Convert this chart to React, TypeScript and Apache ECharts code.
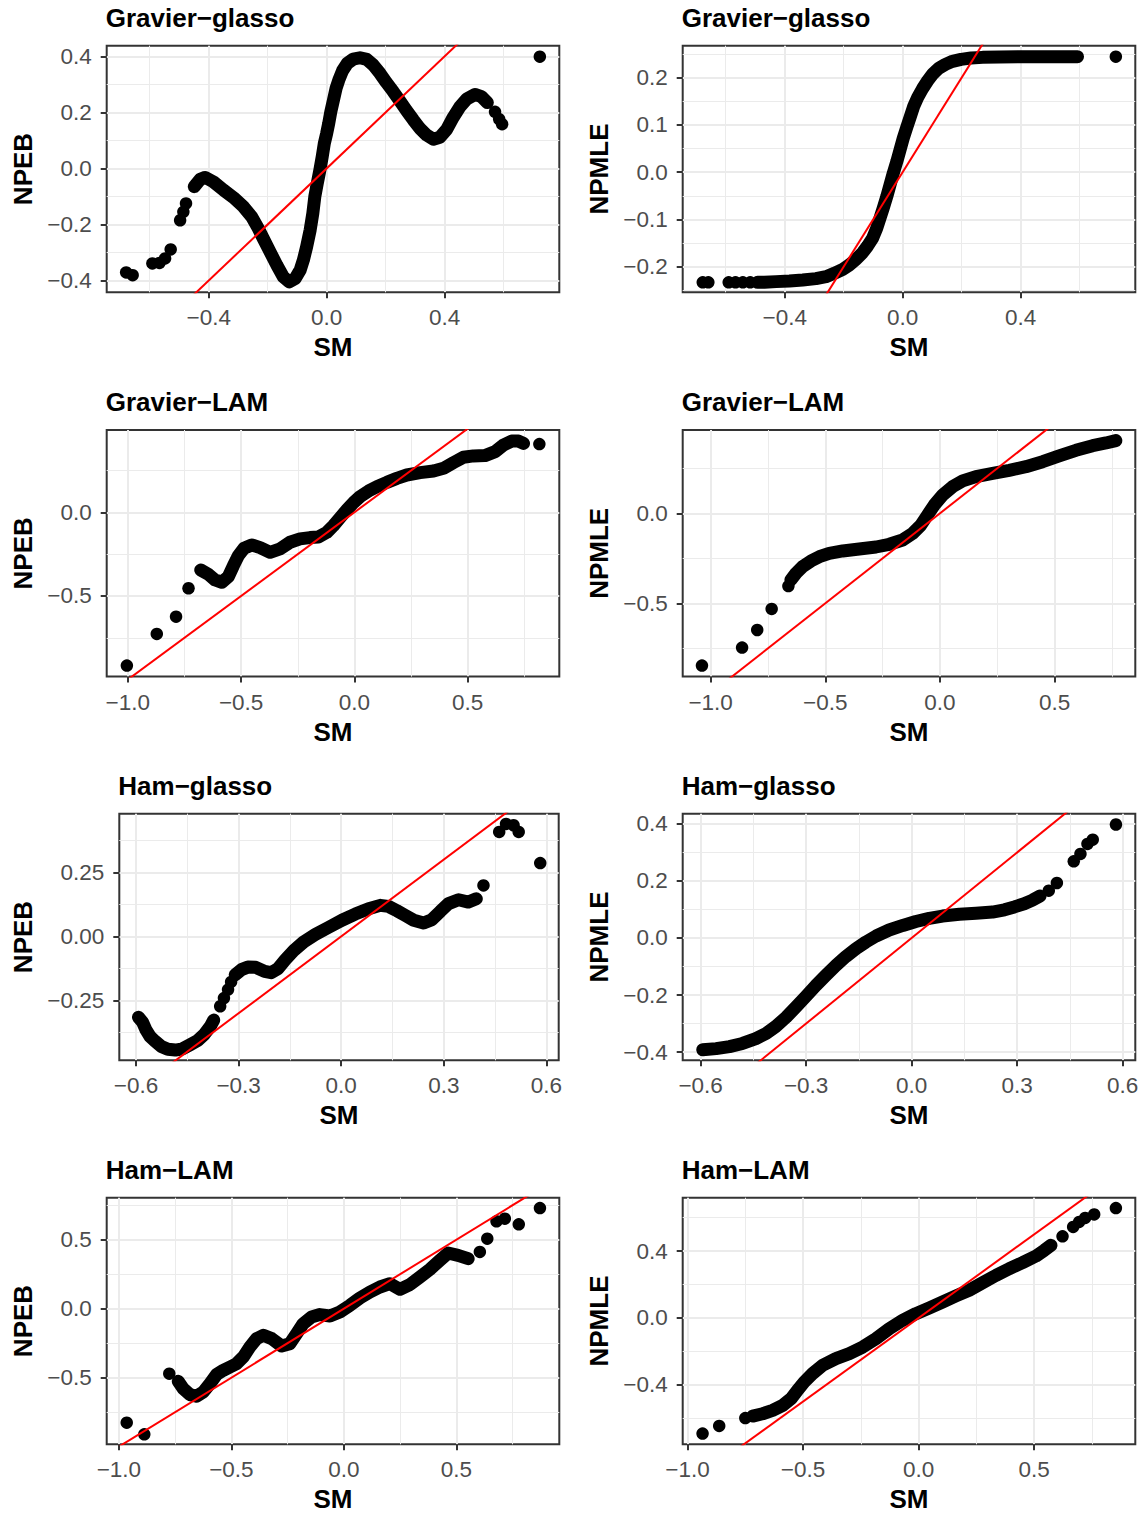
import React, { useEffect, useRef } from "react";
import * as echarts from "echarts";

const FONT = '"Liberation Sans", Arial, Helvetica, sans-serif';

// ---------- text ----------
const panelTitles = [
  "Gravier−glasso", "Gravier−glasso",
  "Gravier−LAM", "Gravier−LAM",
  "Ham−glasso", "Ham−glasso",
  "Ham−LAM", "Ham−LAM",
];
const yTitles = ["NPEB", "NPMLE", "NPEB", "NPMLE", "NPEB", "NPMLE", "NPEB", "NPMLE"];
const xTitle = "SM";

// ---------- axis limits ----------
const xLimits = [
  [-0.746, 0.789], [-0.746, 0.789],
  [-1.093, 0.904], [-1.122, 0.852],
  [-0.649, 0.636], [-0.651, 0.636],
  [-1.054, 0.957], [-1.021, 0.938],
];
const yLimits = [
  [-0.442, 0.438], [-0.2543, 0.2677],
  [-0.982, 0.492], [-0.907, 0.463],
  [-0.484, 0.479], [-0.429, 0.436],
  [-0.983, 0.804], [-0.756, 0.72],
];

// ---------- ticks ----------
const xBreaksA = [-0.4, 0, 0.4];
const xLabelsA = ["−0.4", "0.0", "0.4"];
const xMinorA = [-0.6, -0.2, 0.2, 0.6];
const xBreaksB = [-1, -0.5, 0, 0.5];
const xLabelsB = ["−1.0", "−0.5", "0.0", "0.5"];
const xMinorB = [-0.75, -0.25, 0.25, 0.75];
const xBreaksC = [-0.6, -0.3, 0, 0.3, 0.6];
const xLabelsC = ["−0.6", "−0.3", "0.0", "0.3", "0.6"];
const xMinorC = [-0.45, -0.15, 0.15, 0.45];

const yBreaks1 = [-0.4, -0.2, 0, 0.2, 0.4];
const yLabels1 = ["−0.4", "−0.2", "0.0", "0.2", "0.4"];
const yMinor1 = [-0.3, -0.1, 0.1, 0.3];
const yBreaks2 = [-0.2, -0.1, 0, 0.1, 0.2];
const yLabels2 = ["−0.2", "−0.1", "0.0", "0.1", "0.2"];
const yMinor2 = [-0.25, -0.15, -0.05, 0.05, 0.15, 0.25];
const yBreaks3 = [-0.5, 0];
const yLabels3 = ["−0.5", "0.0"];
const yMinor3 = [-0.75, -0.25, 0.25];
const yBreaks5 = [-0.25, 0, 0.25];
const yLabels5 = ["−0.25", "0.00", "0.25"];
const yMinor5 = [-0.375, -0.125, 0.125, 0.375];
const yBreaks7 = [-0.5, 0, 0.5];
const yLabels7 = ["−0.5", "0.0", "0.5"];
const yMinor7 = [-0.75, -0.25, 0.25, 0.75];
const yBreaks8 = [-0.4, 0, 0.4];
const yLabels8 = ["−0.4", "0.0", "0.4"];
const yMinor8 = [-0.6, -0.2, 0.2, 0.6];

// ---------- data: dense runs of points (drawn as a continuous band) and separate points ----------
const gravierGlassoNpebRun = [[-0.449,-0.065],[-0.429,-0.039],[-0.412,-0.032],[-0.384,-0.048],[-0.35,-0.077],[-0.316,-0.104],[-0.282,-0.137],[-0.254,-0.173],[-0.232,-0.214],[-0.215,-0.25],[-0.192,-0.298],[-0.169,-0.345],[-0.147,-0.387],[-0.127,-0.405],[-0.107,-0.393],[-0.09,-0.363],[-0.079,-0.327],[-0.068,-0.28],[-0.056,-0.22],[-0.047,-0.161],[-0.04,-0.099],[-0.032,-0.054],[-0.023,-0.006],[-0.015,0.042],[-0.008,0.089],[0,0.125],[0.007,0.161],[0.014,0.202],[0.023,0.244],[0.032,0.286],[0.041,0.315],[0.054,0.349],[0.07,0.375],[0.09,0.39],[0.113,0.395],[0.136,0.389],[0.158,0.369],[0.181,0.339],[0.203,0.306],[0.226,0.274],[0.249,0.24],[0.271,0.206],[0.294,0.173],[0.316,0.143],[0.339,0.119],[0.362,0.104],[0.384,0.111],[0.407,0.139],[0.429,0.182],[0.452,0.22],[0.475,0.248],[0.503,0.264],[0.525,0.256],[0.545,0.235]];
const gravierGlassoNpebPts = [[-0.68,-0.371],[-0.658,-0.381],[-0.591,-0.339],[-0.567,-0.337],[-0.548,-0.321],[-0.529,-0.289],[-0.497,-0.185],[-0.486,-0.155],[-0.477,-0.125],[0.571,0.202],[0.585,0.176],[0.595,0.158],[0.723,0.399]];

const gravierGlassoNpmleRun = [[-0.492,-0.2332],[-0.469,-0.2332],[-0.429,-0.2317],[-0.384,-0.2303],[-0.339,-0.2282],[-0.294,-0.2254],[-0.26,-0.2212],[-0.232,-0.2141],[-0.203,-0.2056],[-0.181,-0.1965],[-0.158,-0.1845],[-0.136,-0.1704],[-0.119,-0.1563],[-0.102,-0.14],[-0.088,-0.1189],[-0.077,-0.0977],[-0.066,-0.0765],[-0.054,-0.0519],[-0.043,-0.0272],[-0.032,-0.0025],[-0.02,0.0222],[-0.009,0.0469],[0.002,0.0716],[0.014,0.0949],[0.026,0.1175],[0.037,0.1386],[0.051,0.1584],[0.068,0.1774],[0.085,0.1937],[0.102,0.2078],[0.122,0.2198],[0.145,0.2282],[0.169,0.2346],[0.198,0.2388],[0.232,0.2416],[0.271,0.243],[0.328,0.2437],[0.395,0.2444],[0.475,0.2444],[0.542,0.2444],[0.593,0.2444]];
const gravierGlassoNpmlePts = [[-0.678,-0.2332],[-0.659,-0.2332],[-0.59,-0.2332],[-0.567,-0.2332],[-0.542,-0.2332],[-0.517,-0.2332],[0.723,0.2444]];

const gravierLamNpebRun = [[-0.678,-0.345],[-0.644,-0.371],[-0.615,-0.404],[-0.585,-0.418],[-0.556,-0.384],[-0.534,-0.319],[-0.512,-0.259],[-0.487,-0.215],[-0.453,-0.195],[-0.416,-0.211],[-0.372,-0.239],[-0.328,-0.219],[-0.284,-0.179],[-0.24,-0.159],[-0.196,-0.151],[-0.159,-0.147],[-0.122,-0.12],[-0.093,-0.08],[-0.063,-0.032],[-0.034,0.014],[-0.004,0.058],[0.025,0.094],[0.062,0.127],[0.099,0.153],[0.143,0.179],[0.187,0.203],[0.231,0.223],[0.29,0.237],[0.349,0.247],[0.393,0.263],[0.437,0.297],[0.481,0.329],[0.525,0.337],[0.576,0.339],[0.621,0.363],[0.657,0.402],[0.694,0.426],[0.724,0.426],[0.746,0.412]];
const gravierLamNpebPts = [[-1.004,-0.916],[-0.872,-0.727],[-0.787,-0.624],[-0.732,-0.454],[0.816,0.408]];

const gravierLamNpmleRun = [[-0.65,-0.37],[-0.628,-0.333],[-0.599,-0.296],[-0.563,-0.265],[-0.526,-0.241],[-0.483,-0.222],[-0.424,-0.209],[-0.352,-0.198],[-0.279,-0.187],[-0.221,-0.172],[-0.163,-0.148],[-0.119,-0.111],[-0.083,-0.065],[-0.054,-0.009],[-0.025,0.046],[0.012,0.102],[0.055,0.148],[0.099,0.18],[0.157,0.204],[0.23,0.222],[0.302,0.239],[0.375,0.259],[0.448,0.287],[0.52,0.319],[0.593,0.35],[0.666,0.376],[0.724,0.391],[0.767,0.404]];
const gravierLamNpmlePts = [[-1.038,-0.846],[-0.863,-0.746],[-0.797,-0.648],[-0.734,-0.531],[-0.661,-0.404]];

const hamGlassoNpebRunA = [[-0.593,-0.316],[-0.581,-0.335],[-0.571,-0.365],[-0.559,-0.391],[-0.544,-0.41],[-0.526,-0.43],[-0.507,-0.441],[-0.485,-0.444],[-0.464,-0.439],[-0.442,-0.423],[-0.419,-0.406],[-0.4,-0.382],[-0.383,-0.352],[-0.373,-0.327]];
const hamGlassoNpebRunB = [[-0.31,-0.15],[-0.292,-0.13],[-0.273,-0.12],[-0.25,-0.121],[-0.224,-0.137],[-0.205,-0.142],[-0.185,-0.126],[-0.164,-0.092],[-0.139,-0.056],[-0.11,-0.022],[-0.076,0.007],[-0.037,0.035],[0.002,0.063],[0.041,0.087],[0.08,0.108],[0.114,0.121],[0.138,0.117],[0.163,0.1],[0.187,0.082],[0.212,0.063],[0.241,0.052],[0.265,0.065],[0.29,0.098],[0.314,0.128],[0.343,0.143],[0.372,0.134],[0.395,0.147]];
const hamGlassoNpebPts = [[-0.354,-0.273],[-0.343,-0.241],[-0.331,-0.208],[-0.322,-0.178],[0.416,0.199],[0.462,0.408],[0.482,0.439],[0.504,0.434],[0.519,0.408],[0.582,0.286]];

const hamGlassoNpmleRun = [[-0.594,-0.392],[-0.556,-0.388],[-0.518,-0.381],[-0.481,-0.37],[-0.443,-0.353],[-0.414,-0.335],[-0.386,-0.31],[-0.357,-0.278],[-0.329,-0.242],[-0.3,-0.204],[-0.272,-0.166],[-0.244,-0.131],[-0.215,-0.096],[-0.187,-0.065],[-0.158,-0.037],[-0.13,-0.014],[-0.101,0.007],[-0.064,0.028],[-0.025,0.044],[0.012,0.058],[0.05,0.069],[0.088,0.077],[0.136,0.083],[0.183,0.087],[0.23,0.091],[0.264,0.099],[0.292,0.109],[0.32,0.12],[0.344,0.133],[0.365,0.147]];
const hamGlassoNpmlePts = [[0.39,0.166],[0.413,0.193],[0.461,0.269],[0.48,0.295],[0.5,0.33],[0.515,0.345],[0.581,0.398]];

const hamLamNpebRun = [[-0.736,-0.527],[-0.714,-0.58],[-0.684,-0.623],[-0.655,-0.635],[-0.625,-0.604],[-0.595,-0.543],[-0.566,-0.478],[-0.536,-0.447],[-0.506,-0.423],[-0.477,-0.399],[-0.447,-0.35],[-0.418,-0.278],[-0.388,-0.217],[-0.358,-0.193],[-0.321,-0.217],[-0.277,-0.271],[-0.24,-0.254],[-0.21,-0.181],[-0.181,-0.109],[-0.144,-0.06],[-0.107,-0.043],[-0.062,-0.053],[-0.018,-0.024],[0.027,0.024],[0.071,0.077],[0.116,0.121],[0.16,0.157],[0.204,0.181],[0.249,0.14],[0.293,0.174],[0.338,0.229],[0.382,0.285],[0.426,0.35],[0.463,0.403],[0.507,0.386],[0.552,0.362]];
const hamLamNpebPts = [[-0.965,-0.826],[-0.887,-0.911],[-0.776,-0.471],[0.604,0.411],[0.637,0.507],[0.678,0.633],[0.715,0.652],[0.777,0.611],[0.871,0.729]];

const hamLamNpmleRun = [[-0.718,-0.587],[-0.675,-0.573],[-0.632,-0.553],[-0.588,-0.523],[-0.552,-0.483],[-0.524,-0.433],[-0.495,-0.383],[-0.459,-0.333],[-0.415,-0.283],[-0.358,-0.243],[-0.3,-0.213],[-0.242,-0.174],[-0.185,-0.124],[-0.127,-0.064],[-0.069,-0.014],[-0.012,0.026],[0.046,0.06],[0.104,0.096],[0.162,0.132],[0.219,0.166],[0.277,0.211],[0.335,0.255],[0.392,0.295],[0.45,0.331],[0.508,0.371],[0.544,0.405],[0.573,0.435]];
const hamLamNpmlePts = [[-0.935,-0.692],[-0.863,-0.646],[-0.75,-0.599],[0.623,0.489],[0.669,0.545],[0.695,0.575],[0.721,0.599],[0.76,0.62],[0.854,0.658]];

const panelRuns = [
  [gravierGlassoNpebRun], [gravierGlassoNpmleRun],
  [gravierLamNpebRun], [gravierLamNpmleRun],
  [hamGlassoNpebRunA, hamGlassoNpebRunB], [hamGlassoNpmleRun],
  [hamLamNpebRun], [hamLamNpmleRun],
];
const panelPoints = [
  gravierGlassoNpebPts, gravierGlassoNpmlePts,
  gravierLamNpebPts, gravierLamNpmlePts,
  hamGlassoNpebPts, hamGlassoNpmlePts,
  hamLamNpebPts, hamLamNpmlePts,
];
const identityLine = [[-2, -2], [2, 2]];

const xBreaks = [xBreaksA, xBreaksA, xBreaksB, xBreaksB, xBreaksC, xBreaksC, xBreaksB, xBreaksB];
const xLabels = [xLabelsA, xLabelsA, xLabelsB, xLabelsB, xLabelsC, xLabelsC, xLabelsB, xLabelsB];
const xMinor = [xMinorA, xMinorA, xMinorB, xMinorB, xMinorC, xMinorC, xMinorB, xMinorB];
const yBreaks = [yBreaks1, yBreaks2, yBreaks3, yBreaks3, yBreaks5, yBreaks1, yBreaks7, yBreaks8];
const yLabels = [yLabels1, yLabels2, yLabels3, yLabels3, yLabels5, yLabels1, yLabels7, yLabels8];
const yMinor = [yMinor1, yMinor2, yMinor3, yMinor3, yMinor5, yMinor1, yMinor7, yMinor8];

// ---------- layout (pixels) ----------
const plotLefts = [106.7, 682.7, 106.7, 682.7, 119.3, 682.7, 106.7, 682.7];
const plotRights = [559.3, 1135.3, 559.3, 1135.3, 558.7, 1135.3, 559.3, 1135.3];
const rowTops = [45.7, 430, 813.7, 1197.7];
const plotHeight = 246.6;
const yTitleX = [22.8, 598.7];

function labelFor(breaks: number[], labels: string[]) {
  return (v: number) => {
    for (let i = 0; i < breaks.length; i++) {
      if (Math.abs(breaks[i] - v) < 1e-6) return labels[i];
    }
    return "";
  };
}

function buildOption() {
  const grid: any[] = [];
  const xAxis: any[] = [];
  const yAxis: any[] = [];
  const series: any[] = [];
  const graphic: any[] = [];

  for (let i = 0; i < 8; i++) {
    const row = Math.floor(i / 2);
    const col = i % 2;
    const top = rowTops[row];
    const left = plotLefts[i];
    const width = plotRights[i] - plotLefts[i];
    grid.push({
      left, top, width, height: plotHeight,
      show: true, borderColor: "#333333", borderWidth: 2, backgroundColor: "#ffffff",
      containLabel: false, outerBoundsMode: "none",
    });
    const tickStyle = { color: "#333333", width: 2 };
    xAxis.push({
      gridIndex: i, type: "value", position: "bottom",
      min: xLimits[i][0], max: xLimits[i][1],
      axisLine: { show: false, onZero: false },
      axisTick: { show: true, inside: false, customValues: xBreaks[i], length: 6, lineStyle: tickStyle },
      axisLabel: {
        show: true, customValues: xBreaks[i], formatter: labelFor(xBreaks[i], xLabels[i]),
        color: "#4D4D4D", fontSize: 22.5, fontFamily: FONT, margin: 14,
      },
      splitLine: { show: true, lineStyle: { color: "#EBEBEB", width: 2 } },
      z: 1,
    });
    xAxis.push({
      gridIndex: i, type: "value", position: "top",
      min: xLimits[i][0], max: xLimits[i][1],
      axisLine: { show: false, onZero: false },
      axisTick: { show: false, customValues: xMinor[i] },
      axisLabel: { show: false, customValues: xMinor[i] },
      splitLine: { show: true, lineStyle: { color: "#EBEBEB", width: 1 } },
      z: 0,
    });
    yAxis.push({
      gridIndex: i, type: "value", position: "left",
      min: yLimits[i][0], max: yLimits[i][1],
      axisLine: { show: false, onZero: false },
      axisTick: { show: true, inside: false, customValues: yBreaks[i], length: 6, lineStyle: tickStyle },
      axisLabel: {
        show: true, customValues: yBreaks[i], formatter: labelFor(yBreaks[i], yLabels[i]),
        color: "#4D4D4D", fontSize: 22.5, fontFamily: FONT, margin: 15,
      },
      splitLine: { show: true, lineStyle: { color: "#EBEBEB", width: 2 } },
      z: 1,
    });
    yAxis.push({
      gridIndex: i, type: "value", position: "right",
      min: yLimits[i][0], max: yLimits[i][1],
      axisLine: { show: false, onZero: false },
      axisTick: { show: false, customValues: yMinor[i] },
      axisLabel: { show: false, customValues: yMinor[i] },
      splitLine: { show: true, lineStyle: { color: "#EBEBEB", width: 1 } },
      z: 0,
    });

    for (const run of panelRuns[i]) {
      series.push({
        type: "line", xAxisIndex: 2 * i, yAxisIndex: 2 * i, data: run,
        showSymbol: false, symbol: "none", silent: true, clip: true,
        lineStyle: { color: "#000000", width: 13, cap: "round", join: "round", opacity: 1 },
        z: 3,
      });
    }
    series.push({
      type: "scatter", xAxisIndex: 2 * i, yAxisIndex: 2 * i, data: panelPoints[i],
      symbol: "circle", symbolSize: 12.5, silent: true,
      itemStyle: { color: "#000000", opacity: 1 },
      z: 3,
    });
    series.push({
      type: "line", xAxisIndex: 2 * i, yAxisIndex: 2 * i, data: identityLine,
      showSymbol: false, symbol: "none", silent: true, clip: true,
      lineStyle: { color: "#FF0000", width: 2 },
      z: 4,
    });

    graphic.push({
      type: "text", x: left - 1, y: top - 28,
      style: {
        text: panelTitles[i], fill: "#000000", font: `bold 26px ${FONT}`,
        textAlign: "left", textVerticalAlign: "middle", align: "left", verticalAlign: "middle",
      },
    });
    graphic.push({
      type: "text", x: (left + plotRights[i]) / 2, y: top + 301.5,
      style: {
        text: xTitle, fill: "#000000", font: `bold 26px ${FONT}`,
        textAlign: "center", textVerticalAlign: "middle", align: "center", verticalAlign: "middle",
      },
    });
    graphic.push({
      type: "text", x: yTitleX[col], y: top + plotHeight / 2, rotation: Math.PI / 2,
      style: {
        text: yTitles[i], fill: "#000000", font: `bold 26px ${FONT}`,
        textAlign: "center", textVerticalAlign: "middle", align: "center", verticalAlign: "middle",
      },
    });
  }

  return {
    animation: false,
    backgroundColor: "#ffffff",
    grid, xAxis, yAxis, series, graphic,
  };
}

export default function App() {
  const ref = useRef<HTMLDivElement>(null);
  useEffect(() => {
    if (!ref.current) return;
    const chart = echarts.init(ref.current, null, { renderer: "svg" });
    chart.setOption(buildOption() as any);
    return () => chart.dispose();
  }, []);
  return (
    <div
      ref={ref}
      style={{ position: "absolute", left: 0, top: 0, width: 1146, height: 1515, background: "#ffffff" }}
    />
  );
}
